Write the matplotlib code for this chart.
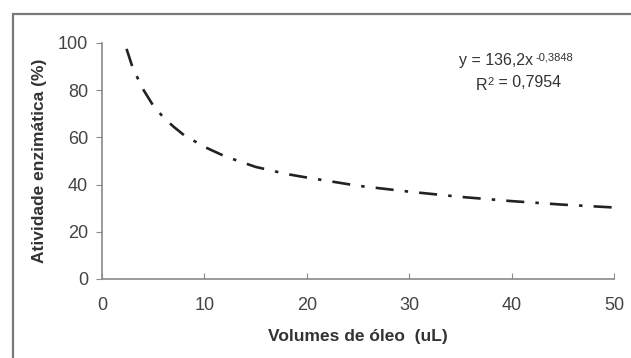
import matplotlib.pyplot as plt
from matplotlib.patches import Rectangle

plt.rcParams['font.family'] = ['Liberation Sans', 'DejaVu Sans']
plt.rcParams['lines.scale_dashes'] = False

# values
volume = [2.4, 3, 4, 5, 6, 7, 8, 10, 12, 15, 18, 20, 25, 30, 35, 40, 45, 50]
activity = [97.5, 89.5, 80.5, 73.5, 68.5, 64.5, 61, 56, 52, 47.5, 44.5, 43,
            39.5, 37, 34.8, 33, 31.5, 30.3]
x_ticks = [0, 10, 20, 30, 40, 50]
y_ticks = [0, 20, 40, 60, 80, 100]

fig = plt.figure(figsize=(6.31, 3.58), dpi=100)
ax = fig.add_axes([0.1616, 0.2207, 0.8114, 0.6592])

# outer frame (cut off at bottom and right like the scan)
frame = Rectangle((13 / 631, -0.2), 1.2, 1 - 14 / 358 + 0.2,
                  transform=fig.transFigure, fill=False,
                  edgecolor='#7a7a7a', linewidth=1.6)
fig.patches.append(frame)

ax.plot(volume, activity, color='#222222', linewidth=1.9,
        linestyle=(0, (13, 8, 2.5, 8)), solid_capstyle='butt')

ax.set_xlim(0, 50)
ax.set_ylim(0, 100)
ax.set_xticks(x_ticks)
ax.set_yticks(y_ticks)

for side in ['top', 'right']:
    ax.spines[side].set_visible(False)
for side in ['left', 'bottom']:
    ax.spines[side].set_color('#8a8a8a')
    ax.spines[side].set_linewidth(1.2)

ax.tick_params(axis='x', direction='in', length=4, color='#8a8a8a',
               labelsize=13, labelcolor='#444444', pad=13)
ax.tick_params(axis='y', direction='out', length=4, color='#8a8a8a',
               labelsize=13, labelcolor='#444444', pad=6)

ax.set_xlabel('Volumes de óleo  (uL)', fontsize=12.5, fontweight='bold',
              color='#333333', labelpad=11)
ax.set_ylabel('Atividade enzimática (%)', fontsize=12.5, fontweight='bold',
              color='#333333', labelpad=8)

eq = ax.text(0.697, 0.907, 'y = 136,2x', transform=ax.transAxes,
             ha='left', va='baseline', fontsize=11.5, color='#333333')
ax.annotate('-0,3848', xy=(1, 1), xycoords=eq, xytext=(2, 0),
            textcoords='offset points', ha='left', va='top',
            fontsize=8, color='#333333')
r2 = ax.text(0.73, 0.80, 'R', transform=ax.transAxes,
             ha='left', va='baseline', fontsize=11.5, color='#333333')
sup = ax.annotate('2', xy=(1, 1), xycoords=r2, xytext=(0.5, 1),
                  textcoords='offset points', ha='left', va='top',
                  fontsize=8, color='#333333')
ax.annotate(' = 0,7954', xy=(1, 0), xycoords=sup, xytext=(0, 0),
            textcoords='offset points', ha='left', va='baseline',
            fontsize=11.5, color='#333333', annotation_clip=False)

fig.savefig('out.png', dpi=100)
